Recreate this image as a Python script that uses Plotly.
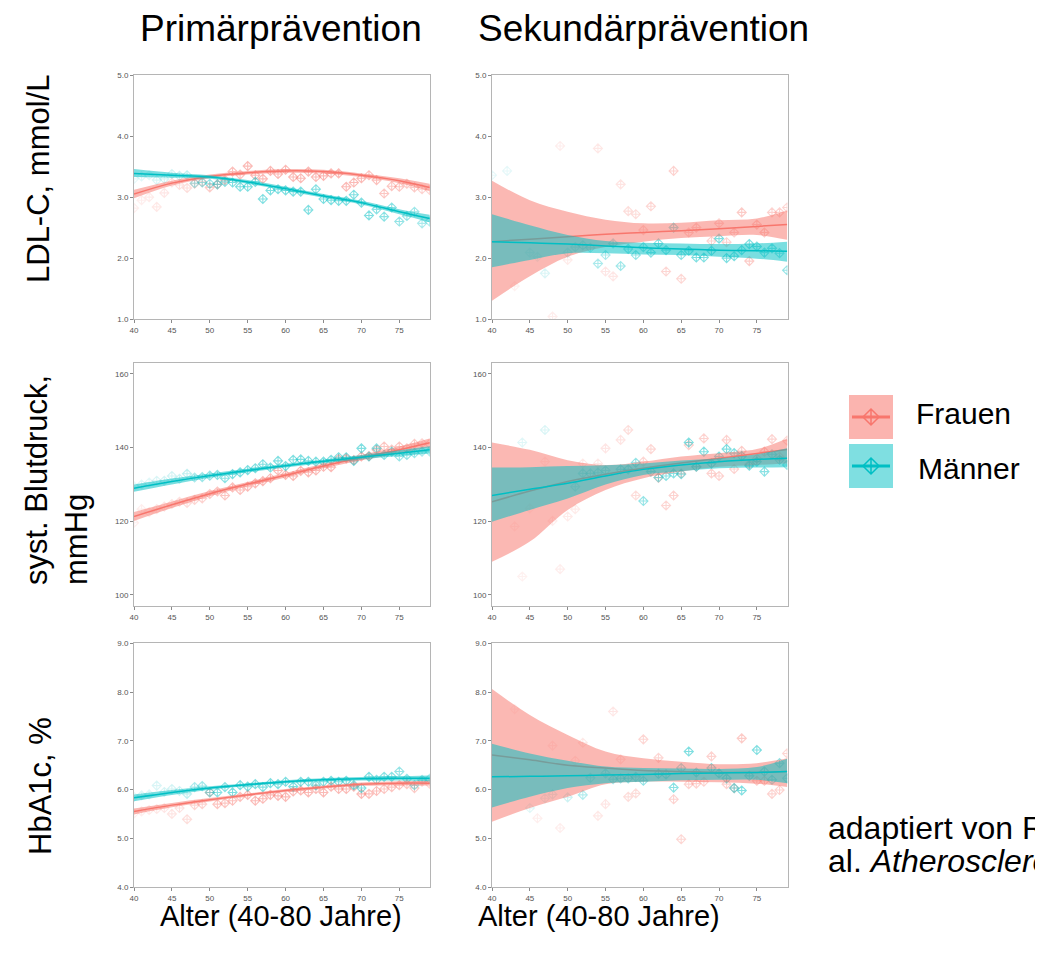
import plotly.graph_objects as go

# page body has an 8px margin, so the figure is sized to fill the rest of the window
OFF = 8
W, H = 1043 - OFF, 953 - OFF
RED = "#F8766D"
TEAL = "#00BFC4"
RED_FILL = "rgba(248,118,109,0.52)"
TEAL_FILL = "rgba(0,191,196,0.52)"

AGES = list(range(40, 80))
FIT_AGES = [40, 45, 50, 55, 60, 65, 70, 75, 79]

COL_TITLES = ["Primärprävention", "Sekundärprävention"]
ROW_TITLES = ["LDL-C, mmol/L", "syst. Blutdruck,<br>mmHg", "HbA1c, %"]
X_TITLE = "Alter (40-80 Jahre)"
LEGEND_NAMES = ["Frauen", "Männer"]
CITATION = ["adaptiert von R", "al. <i>Atherosclerosis</i>"]
X_TICKS = [40, 45, 50, 55, 60, 65, 70, 75]
Y_TICKS_LDL = [1.0, 2.0, 3.0, 4.0, 5.0]
Y_TICKS_BP = [100, 120, 140, 160]
Y_TICKS_HBA = [4.0, 5.0, 6.0, 7.0, 8.0, 9.0]

N = None
# ---------- point alpha (by age 40..79) ----------
alpha_prim_f = [0.12, 0.12, 0.15, 0.17, 0.18, 0.2, 0.22, 0.25, 0.3, 0.33,
                0.38, 0.42, 0.42, 0.46, 0.46, 0.5, 0.5, 0.5, 0.5, 0.5,
                0.5, 0.5, 0.5, 0.5, 0.5, 0.5, 0.5, 0.5, 0.5, 0.5,
                0.5, 0.46, 0.46, 0.42, 0.42, 0.42, 0.38, 0.38, 0.33, 0.3]
alpha_prim_m = [0.1, 0.12, 0.12, 0.15, 0.17, 0.18, 0.2, 0.25, 0.33, 0.38,
                0.42, 0.46, 0.46, 0.5, 0.5, 0.5, 0.5, 0.5, 0.5, 0.5,
                0.5, 0.5, 0.5, 0.5, 0.5, 0.5, 0.5, 0.5, 0.5, 0.5,
                0.5, 0.5, 0.46, 0.46, 0.46, 0.42, 0.42, 0.38, 0.33, 0.3]
alpha_sek_f = [0.08, 0.08, 0.08, 0.1, 0.1, 0.1, 0.12, 0.12, 0.13, 0.13,
               0.15, 0.15, 0.17, 0.17, 0.17, 0.18, 0.18, 0.2, 0.25, 0.25,
               0.3, 0.3, 0.3, 0.3, 0.33, 0.3, 0.33, 0.33, 0.33, 0.33,
               0.33, 0.33, 0.33, 0.38, 0.38, 0.38, 0.38, 0.33, 0.33, 0.3]
alpha_sek_m = [0.1, 0.1, 0.1, 0.12, 0.12, 0.13, 0.13, 0.15, 0.17, 0.17,
               0.2, 0.25, 0.3, 0.3, 0.33, 0.33, 0.38, 0.38, 0.42, 0.42,
               0.42, 0.46, 0.46, 0.46, 0.46, 0.46, 0.5, 0.5, 0.5, 0.5,
               0.5, 0.5, 0.5, 0.5, 0.5, 0.5, 0.46, 0.46, 0.42, 0.42]

# ---------- LDL-C ----------
ldl_prim_f = [2.82, 2.95, 3.00, 2.84, 3.07, 3.24, 3.20, 3.15, 3.22, 3.25,
              3.16, 3.21, 3.28, 3.42, 3.37, 3.51, 3.36, 3.30, 3.43, 3.38,
              3.45, 3.33, 3.31, 3.42, 3.33, 3.35, 3.39, 3.39, 3.17, 3.24,
              3.31, 3.36, 3.28, 3.06, 3.18, 3.17, 3.22, 3.16, 3.13, 3.12]
ldl_prim_m = [3.30, 3.34, 3.36, 3.28, 3.30, 3.38, 3.35, 3.36, 3.23, 3.24,
              3.22, 3.21, 3.25, 3.24, 3.17, 3.17, 3.25, 2.97, 3.11, 3.13,
              3.11, 3.09, 3.09, 2.79, 3.13, 2.97, 2.95, 2.94, 2.94, 3.04,
              2.91, 2.70, 2.80, 2.68, 2.83, 2.60, 2.69, 2.76, 2.57, 2.60]
ldl_sek_f = [N, N, N, 1.54, N, N, N, N, 1.04, 3.84,
             1.97, N, N, N, 3.80, 1.78, 1.70, 3.21, 2.77, 2.72,
             2.46, 2.85, N, 1.78, 3.43, 1.66, 2.42, 2.50, N, 2.28,
             2.57, 2.26, 2.42, 2.75, 1.95, 2.55, 2.42, 2.75, 2.75, 2.83]
ldl_sek_m = [3.36, N, 3.43, N, N, 2.09, 2.02, 1.75, N, N,
             2.09, 2.18, 2.21, 2.17, 1.91, 2.05, 2.24, 1.87, 2.15, 2.05,
             2.18, 2.09, 2.24, 2.13, 2.50, 2.05, 2.12, 2.01, 2.01, 2.12,
             2.32, 2.00, 2.03, 2.13, 2.23, 2.19, 2.09, 2.16, 2.08, 1.80]

ldl_prim_f_fit = [3.05, 3.23, 3.34, 3.40, 3.43, 3.42, 3.36, 3.27, 3.16]
ldl_prim_f_lo = [2.98, 3.19, 3.31, 3.37, 3.40, 3.39, 3.33, 3.23, 3.10]
ldl_prim_f_hi = [3.12, 3.27, 3.37, 3.43, 3.46, 3.45, 3.39, 3.31, 3.22]
ldl_prim_m_fit = [3.39, 3.36, 3.33, 3.25, 3.14, 3.02, 2.91, 2.76, 2.65]
ldl_prim_m_lo = [3.33, 3.32, 3.30, 3.22, 3.11, 2.99, 2.88, 2.72, 2.59]
ldl_prim_m_hi = [3.46, 3.40, 3.36, 3.28, 3.17, 3.05, 2.94, 2.80, 2.71]

ldl_sek_f_fit = [2.27, 2.31, 2.35, 2.39, 2.42, 2.45, 2.48, 2.52, 2.55]
ldl_sek_f_lo = [1.30, 1.70, 2.02, 2.18, 2.27, 2.33, 2.36, 2.38, 2.30]
ldl_sek_f_hi = [3.27, 2.95, 2.76, 2.63, 2.57, 2.58, 2.62, 2.65, 2.78]
ldl_sek_m_fit = [2.27, 2.25, 2.23, 2.20, 2.17, 2.15, 2.13, 2.12, 2.11]
ldl_sek_m_lo = [1.85, 1.97, 2.08, 2.08, 2.06, 2.05, 2.02, 1.99, 1.94]
ldl_sek_m_hi = [2.72, 2.54, 2.38, 2.28, 2.25, 2.24, 2.23, 2.24, 2.27]

# ---------- systolic BP ----------
bp_prim_f = [119.6, 123.3, 122.5, 123.3, 124.0, 124.7, 125.3, 125.0, 125.8, 126.2,
             127.4, 128.1, 127.0, 129.2, 128.5, 129.4, 130.3, 130.9, 131.7, 133.8,
             132.6, 132.3, 133.7, 133.3, 133.8, 134.8, 134.7, 136.9, 137.1, 136.6,
             137.6, 137.7, 139.4, 140.3, 139.5, 140.3, 139.8, 141.0, 141.2, 141.0]
bp_prim_m = [129.5, 130.0, 130.5, 131.0, 131.0, 132.3, 131.5, 132.9, 131.9, 132.0,
             132.4, 132.6, 131.7, 132.8, 133.3, 133.9, 134.4, 135.5, 134.6, 136.4,
             135.0, 136.7, 136.8, 136.4, 136.2, 136.2, 136.7, 137.4, 137.4, 136.4,
             139.8, 137.6, 139.8, 138.0, 138.9, 137.6, 138.0, 138.5, 138.9, 139.0]
bp_sek_f = [N, N, N, 118.6, 105.0, 123.5, N, 136.2, 120.1, 107.0,
            121.3, 123.3, 135.7, N, 135.7, 139.8, N, 142.1, 144.8, 127.0,
            136.2, 139.6, 131.8, 124.3, 127.0, 133.0, 140.7, 134.8, 142.5, 133.0,
            132.3, 142.1, 134.2, 139.1, 135.5, 137.0, 138.9, 142.3, 137.5, 141.9]
bp_sek_m = [N, N, N, N, 141.4, N, N, 144.8, N, N,
            N, 129.4, 133.0, 133.0, 133.2, 133.8, N, 134.1, 134.1, 135.9,
            125.5, 133.5, 131.9, 132.3, 133.0, 132.8, 141.4, 134.8, 138.9, 135.7,
            137.6, 139.6, 138.5, 137.7, 135.1, 136.2, 133.5, 138.2, 136.7, 135.3]

bp_prim_f_fit = [121.3, 124.5, 127.5, 130.1, 132.5, 135.0, 137.3, 139.4, 141.3]
bp_prim_f_lo = [120.1, 123.6, 126.8, 129.5, 131.9, 134.4, 136.6, 138.5, 140.1]
bp_prim_f_hi = [122.5, 125.4, 128.2, 130.7, 133.1, 135.6, 138.0, 140.3, 142.5]
bp_prim_m_fit = [129.0, 130.8, 132.4, 133.8, 135.1, 136.3, 137.4, 138.5, 139.4]
bp_prim_m_lo = [128.0, 130.0, 131.8, 133.3, 134.6, 135.8, 136.8, 137.7, 138.4]
bp_prim_m_hi = [130.0, 131.6, 133.0, 134.3, 135.6, 136.8, 138.0, 139.3, 140.4]

bp_sek_f_fit = [125.3, 128.2, 130.8, 132.8, 134.4, 135.8, 137.1, 138.4, 139.5]
bp_sek_f_lo = [109.0, 114.5, 123.1, 128.5, 131.7, 133.5, 134.8, 135.3, 135.7]
bp_sek_f_hi = [141.4, 139.4, 136.6, 135.3, 136.2, 137.6, 138.5, 139.6, 142.5]
bp_sek_m_fit = [127.0, 128.7, 130.3, 132.3, 134.1, 135.3, 136.2, 136.8, 137.1]
bp_sek_m_lo = [119.9, 123.1, 126.2, 130.0, 132.6, 133.6, 134.4, 134.6, 134.7]
bp_sek_m_hi = [134.6, 134.7, 135.0, 135.2, 135.7, 136.5, 137.1, 138.2, 139.8]

# ---------- HbA1c ----------
hba_prim_f = [5.51, 5.55, 5.58, 5.60, 5.62, 5.50, 5.62, 5.39, 5.68, 5.70,
              5.94, 5.70, 5.72, 5.77, 5.85, 5.89, 5.77, 5.81, 5.89, 5.87,
              5.85, 5.96, 5.98, 5.94, 6.01, 5.94, 6.06, 6.01, 6.01, 6.06,
              5.91, 5.91, 5.97, 6.01, 6.05, 6.09, 6.11, 6.03, 6.16, 6.12]
hba_prim_m = [5.85, 5.88, 5.90, 6.08, 5.95, 6.01, 5.97, 5.91, 6.05, 6.07,
              5.94, 5.94, 6.05, 5.94, 6.09, 6.06, 6.11, 6.05, 6.13, 6.11,
              6.16, 6.06, 6.16, 6.16, 6.09, 6.16, 6.18, 6.16, 6.18, 6.09,
              6.03, 6.26, 6.20, 6.26, 6.26, 6.37, 6.22, 6.09, 6.20, 6.22]
hba_sek_f = [N, N, N, 7.65, N, N, 5.41, N, 6.90, 5.21,
             N, 6.59, 6.96, N, 5.46, 5.70, 7.60, 6.62, 5.85, 5.92,
             7.03, N, 6.65, N, 5.80, 4.98, 6.11, 6.12, 6.16, 6.68,
             N, 6.11, 6.03, 7.05, N, 6.18, 6.18, 5.91, 5.99, 6.74]
hba_sek_m = [N, N, N, N, N, 5.62, N, 5.82, 5.90, N,
             5.84, N, 5.89, 6.24, N, 6.33, 6.21, 6.23, 6.23, 6.26,
             6.18, N, 6.32, 6.31, 6.04, 6.44, 6.78, 6.35, N, 6.44,
             6.33, 6.23, 6.03, 5.98, 6.28, 6.81, 6.37, 6.20, 6.54, 6.23]

hba_prim_f_fit = [5.55, 5.68, 5.79, 5.89, 5.98, 6.05, 6.11, 6.13, 6.13]
hba_prim_f_lo = [5.49, 5.635, 5.755, 5.86, 5.95, 6.02, 6.075, 6.09, 6.08]
hba_prim_f_hi = [5.61, 5.725, 5.825, 5.92, 6.01, 6.08, 6.145, 6.17, 6.18]
hba_prim_m_fit = [5.83, 5.94, 6.03, 6.10, 6.16, 6.20, 6.22, 6.23, 6.23]
hba_prim_m_lo = [5.76, 5.89, 5.995, 6.07, 6.13, 6.17, 6.185, 6.185, 6.17]
hba_prim_m_hi = [5.90, 5.99, 6.065, 6.13, 6.19, 6.23, 6.255, 6.275, 6.29]

hba_sek_f_fit = [6.71, 6.61, 6.50, 6.44, 6.39, 6.37, 6.35, 6.35, 6.37]
hba_sek_f_lo = [5.34, 5.62, 5.85, 6.11, 6.16, 6.16, 6.15, 6.12, 6.05]
hba_sek_f_hi = [8.06, 7.53, 7.12, 6.78, 6.64, 6.57, 6.52, 6.54, 6.64]
hba_sek_m_fit = [6.26, 6.27, 6.28, 6.30, 6.31, 6.33, 6.34, 6.35, 6.37]
hba_sek_m_lo = [5.63, 5.85, 6.03, 6.13, 6.16, 6.19, 6.20, 6.20, 6.13]
hba_sek_m_hi = [6.94, 6.74, 6.59, 6.47, 6.44, 6.43, 6.42, 6.46, 6.63]

# ---------- layout geometry (window pixels) ----------
COL_X = [(134, 430), (492, 787.5)]
ROW_Y = [(75.3, 319), (363.3, 606), (643.3, 887)]
Y_RANGES = [[1.0, 5.0], [97.0, 162.9], [4.0, 9.0]]
Y_TICKS = [Y_TICKS_LDL, Y_TICKS_BP, Y_TICKS_HBA]
Y_FMT = [".1f", "d", ".1f"]


def px(x):
    return (x - OFF) / W


def py(y):
    return 1 - (y - OFF) / H


panels = [
    (0, 0, ldl_prim_f, ldl_prim_m, alpha_prim_f, alpha_prim_m,
     ldl_prim_f_fit, ldl_prim_f_lo, ldl_prim_f_hi, ldl_prim_m_fit, ldl_prim_m_lo, ldl_prim_m_hi),
    (0, 1, ldl_sek_f, ldl_sek_m, alpha_sek_f, alpha_sek_m,
     ldl_sek_f_fit, ldl_sek_f_lo, ldl_sek_f_hi, ldl_sek_m_fit, ldl_sek_m_lo, ldl_sek_m_hi),
    (1, 0, bp_prim_f, bp_prim_m, alpha_prim_f, alpha_prim_m,
     bp_prim_f_fit, bp_prim_f_lo, bp_prim_f_hi, bp_prim_m_fit, bp_prim_m_lo, bp_prim_m_hi),
    (1, 1, bp_sek_f, bp_sek_m, alpha_sek_f, alpha_sek_m,
     bp_sek_f_fit, bp_sek_f_lo, bp_sek_f_hi, bp_sek_m_fit, bp_sek_m_lo, bp_sek_m_hi),
    (2, 0, hba_prim_f, hba_prim_m, alpha_prim_f, alpha_prim_m,
     hba_prim_f_fit, hba_prim_f_lo, hba_prim_f_hi, hba_prim_m_fit, hba_prim_m_lo, hba_prim_m_hi),
    (2, 1, hba_sek_f, hba_sek_m, alpha_sek_f, alpha_sek_m,
     hba_sek_f_fit, hba_sek_f_lo, hba_sek_f_hi, hba_sek_m_fit, hba_sek_m_lo, hba_sek_m_hi),
]

fig = go.Figure()
layout_axes = {}

for (r, c, fpts, mpts, fa, ma, ffit, flo, fhi, mfit, mlo, mhi) in panels:
    n = r * 2 + c + 1
    xa = "x" if n == 1 else f"x{n}"
    ya = "y" if n == 1 else f"y{n}"
    common = dict(xaxis=xa, yaxis=ya, showlegend=False, hoverinfo="skip")

    # points (drawn first, under the ribbons)
    for pts, alph, col in ((fpts, fa, RED), (mpts, ma, TEAL)):
        xs = [a for a, v in zip(AGES, pts) if v is not None]
        ys = [v for v in pts if v is not None]
        ops = [o for o, v in zip(alph, pts) if v is not None]
        fig.add_trace(go.Scatter(
            x=xs, y=ys, mode="markers",
            marker=dict(symbol="diamond-cross-open", size=7, color=col,
                        opacity=ops, line=dict(width=1.1, color=col)),
            **common))

    # ribbon + line per group (Frauen first, then Männer)
    for fit, lo, hi, col, fill in ((ffit, flo, fhi, RED, RED_FILL),
                                   (mfit, mlo, mhi, TEAL, TEAL_FILL)):
        fig.add_trace(go.Scatter(x=FIT_AGES, y=lo, mode="lines",
                                 line=dict(width=0, shape="spline", color=fill),
                                 **common))
        fig.add_trace(go.Scatter(x=FIT_AGES, y=hi, mode="lines", fill="tonexty",
                                 fillcolor=fill,
                                 line=dict(width=0, shape="spline", color=fill),
                                 **common))
        fig.add_trace(go.Scatter(x=FIT_AGES, y=fit, mode="lines",
                                 line=dict(width=1.5, shape="spline", color=col),
                                 **common))

    x0, x1 = COL_X[c]
    yt, yb = ROW_Y[r]
    axstyle = dict(showline=True, linecolor="#b5b5b5", linewidth=1, mirror=True,
                   ticks="outside", ticklen=3, tickcolor="#8a8a8a", tickwidth=1,
                   showgrid=False, zeroline=False, automargin=False,
                   tickfont=dict(family="Liberation Sans", size=8, color="#555555"))
    layout_axes["xaxis" if n == 1 else f"xaxis{n}"] = dict(
        domain=[px(x0), px(x1)], anchor=ya, range=[40, 79.05],
        tickvals=X_TICKS, ticktext=[str(t) for t in X_TICKS], **axstyle)
    layout_axes["yaxis" if n == 1 else f"yaxis{n}"] = dict(
        domain=[py(yb), py(yt)], anchor=xa, range=Y_RANGES[r],
        tickvals=Y_TICKS[r], tickformat=Y_FMT[r], **axstyle)

FONT = "Liberation Sans"
annotations = []
# column titles
for txt, cx in zip(COL_TITLES, [281, 643]):
    annotations.append(dict(text=txt, x=px(cx), y=py(28), xref="paper", yref="paper",
                            xanchor="center", yanchor="middle", showarrow=False,
                            font=dict(family=FONT, size=37, color="black")))
# bottom axis titles
for cx in [281, 599]:
    annotations.append(dict(text=X_TITLE, x=px(cx), y=py(916), xref="paper", yref="paper",
                            xanchor="center", yanchor="middle", showarrow=False,
                            font=dict(family=FONT, size=29, color="black")))
# row titles
for txt, cx, cy in zip(ROW_TITLES, [38, 57, 40], [179, 480, 786]):
    annotations.append(dict(text=txt, x=px(cx), y=py(cy), xref="paper", yref="paper",
                            xanchor="center", yanchor="middle", showarrow=False,
                            textangle=-90, align="left",
                            font=dict(family=FONT, size=31, color="black")))
# legend labels
for txt, lx, ly in zip(LEGEND_NAMES, [914, 916], [414, 468]):
    annotations.append(dict(text=txt, x=px(lx), y=py(ly), xref="paper", yref="paper",
                            xanchor="left", yanchor="middle", showarrow=False,
                            font=dict(family=FONT, size=30, color="black")))
# citation (runs past the right edge, as in the source)
for txt, ly in zip(CITATION, [828, 861]):
    annotations.append(dict(text=txt, x=px(826), y=py(ly), xref="paper",
                            yref="paper", xanchor="left", yanchor="middle", showarrow=False,
                            font=dict(family=FONT, size=32, color="black")))

# legend keys drawn as shapes
shapes = []
for (top, bot), col, fill in (((395, 439), RED, "rgba(248,118,109,0.55)"),
                              ((444, 488), TEAL, "rgba(0,191,196,0.5)")):
    cy = (top + bot) / 2
    shapes.append(dict(type="rect", xref="paper", yref="paper",
                       x0=px(849), x1=px(893), y0=py(bot), y1=py(top),
                       fillcolor=fill, line=dict(width=0)))
    shapes.append(dict(type="line", xref="paper", yref="paper",
                       x0=px(852), x1=px(890), y0=py(cy), y1=py(cy),
                       line=dict(color=col, width=3)))
    cx, rr = 871, 8
    path = (f"M {px(cx)},{py(cy - rr)} L {px(cx + rr)},{py(cy)} "
            f"L {px(cx)},{py(cy + rr)} L {px(cx - rr)},{py(cy)} Z "
            f"M {px(cx)},{py(cy - rr)} L {px(cx)},{py(cy + rr)}")
    shapes.append(dict(type="path", xref="paper", yref="paper", path=path,
                       line=dict(color=col, width=1.5)))

fig.update_layout(
    width=W, height=H,
    margin=dict(l=0, r=0, t=0, b=0, pad=0, autoexpand=False),
    paper_bgcolor="white", plot_bgcolor="white",
    annotations=annotations, shapes=shapes,
    font=dict(family=FONT),
    **layout_axes,
)

fig.write_html("out.html")
